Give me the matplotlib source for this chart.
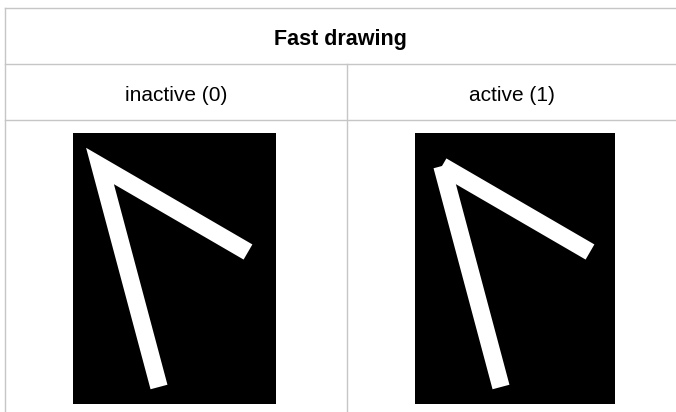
import matplotlib
matplotlib.use("Agg")
from matplotlib import pyplot as plt

plt.rcParams['font.family'] = ['Liberation Sans', 'DejaVu Sans']

title = "Fast drawing"
columns = ["inactive (0)", "active (1)"]
fast_mode = [False, True]

# the stroke drawn in both sample images (pixel coords inside the image)
stroke_x = [86, 27, 175]
stroke_y = [254, 33, 119]
stroke_width_px = 17.5

W, H = 676, 412
DPI = 100
fig = plt.figure(figsize=(W / DPI, H / DPI), dpi=DPI)

# overlay in pixel coords for the table grid and texts
grid = fig.add_axes([0, 0, 1, 1])
grid.set_xlim(0, W)
grid.set_ylim(H, 0)
grid.axis('off')

line_col = "#c6c6c6"
left, mid, right = 4.5, 347, W
top, row1, row2 = 7.5, 63.5, 119.5
grid.plot([left, right], [top, top], color=line_col, lw=1.0)
grid.plot([left, right], [row1, row1], color=line_col, lw=1.0)
grid.plot([left, right], [row2, row2], color=line_col, lw=1.0)
grid.plot([left, left], [top, H], color=line_col, lw=1.0)
grid.plot([mid, mid], [row1, H], color=line_col, lw=1.0)

grid.text((left + right) / 2, 45, title, ha='center', va='baseline',
          fontsize=15.5, fontweight='bold', color='black')
centers = [(left + mid) / 2, (mid + right) / 2]
for cx, label in zip(centers, columns):
    grid.text(cx, 100.5, label, ha='center', va='baseline', fontsize=15, color='black')

# the two sample images
boxes = [(73, 133, 203, 271), (415, 133, 200, 271)]
lw_pt = stroke_width_px * 72 / DPI
for (x0, y0, w, h), fast in zip(boxes, fast_mode):
    ax = fig.add_axes([x0 / W, 1 - (y0 + h) / H, w / W, h / H])
    ax.set_facecolor('black')
    ax.set_xlim(0, w)
    ax.set_ylim(h, 0)
    ax.set_xticks([])
    ax.set_yticks([])
    for s in ax.spines.values():
        s.set_visible(False)
    if fast:
        # segments drawn one by one, no join between them
        for i in range(len(stroke_x) - 1):
            ax.plot(stroke_x[i:i + 2], stroke_y[i:i + 2], color='white', lw=lw_pt,
                    solid_capstyle='butt')
    else:
        ax.plot(stroke_x, stroke_y, color='white', lw=lw_pt,
                solid_joinstyle='miter', solid_capstyle='butt')

fig.savefig("out.png", dpi=DPI, facecolor='white')
